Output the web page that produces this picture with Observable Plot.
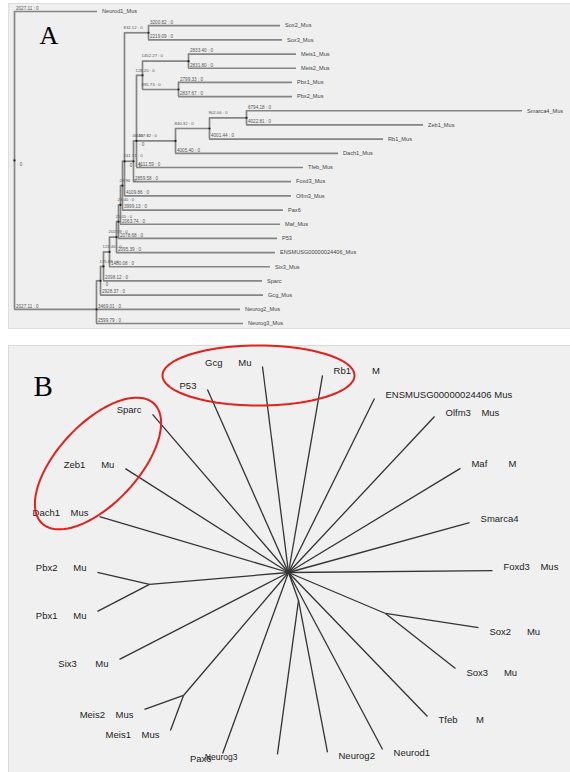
<!DOCTYPE html>
<html><head><meta charset="utf-8">
<script src="https://cdn.jsdelivr.net/npm/d3@7"></script>
<script src="https://cdn.jsdelivr.net/npm/@observablehq/plot@0.6"></script>
<style>body{margin:0;background:#fff;width:570px;overflow:hidden} svg{display:block}</style>
</head><body><div id="chart"></div>
<script>
// ================= Panel A : rectangular tree =================
// nodes listed depth-first (leaf order = top to bottom)
const nodeNamesA = ["root","Neurod1_Mus","nA","nB","nC","nD","nE","nF","nG","nH","nI","nSox","Sox2_Mus","Sox3_Mus","nJ","nK","nMP","nMeis","Meis1_Mus","Meis2_Mus","nPbx","Pbx1_Mus","Pbx2_Mus","nL","nM","nN","Smarca4_Mus","Zeb1_Mus","Rb1_Mus","Dach1_Mus","Tfeb_Mus","Foxd3_Mus","Olfm3_Mus","Pax6","Maf_Mus","P53","ENSMUSG00000024406_Mus","Six3_Mus","Sparc","Gcg_Mus","Neurog2_Mus","Neurog3_Mus"];
const nodeParentsA = [null,"root","root","nA","nB","nC","nD","nE","nF","nG","nH","nI","nSox","nSox","nI","nJ","nK","nMP","nMeis","nMeis","nMP","nPbx","nPbx","nK","nL","nM","nN","nN","nM","nL","nK","nJ","nI","nH","nG","nF","nE","nD","nC","nB","nA","nA"];
const nodeDepthsA = [0,16.6,16.4,17.2,17.8,19.0,20.4,20.8,21.2,21.6,22.0,26.8,53.2,53.6,23.8,24.4,25.6,34.8,56.4,56.4,32.8,55.6,55.6,32.2,39.0,46.4,101.6,81.8,73.8,64.8,57.8,55.4,55.4,53.8,53.2,52.6,52.2,51.2,49.6,49.8,45.2,45.8];
const branchLabelsA = ["","2027.11 : 0","2027.11 : 0","","175.88 : 0","123.46 : 0","202.59 : 0","25.05 : 0","23.40 : 0","28.96 : 0","","832.12 : 0","3200.82 : 0","2219.09 : 0","241.71 : 0","46.13 : 0","128.20 : 0","1452.27 : 0","2833.40 : 0","2831.80 : 0","895.73 : 0","2799.33 : 0","2837.67 : 0","4467.72 : 0","840.32 : 0","902.06 : 0","6794.18 : 0","4022.81 : 0","4001.44 : 0","4005.40 : 0","4111.59 : 0","2859.58 : 0","4109.86 : 0","3999.13 : 0","2063.74 : 0","2078.68 : 0","2095.39 : 0","1480.08 : 0","2098.12 : 0","2928.37 : 0","3469.01 : 0","2599.79 : 0"];
const nodeMarksA = ["root","nI","nJ","nK","nB"];

// ================= Panel B : unrooted radial tree =================
// branch angle (degrees clockwise from up) and length from parent
const bNames   = ["PbxB","MeisB","SoxB","NgB","Gcg","Rb1","P53","Sparc","Zeb1","Dach1","Pbx2","Pbx1","Six3","Meis2","Meis1","Pax6","Neurog3","Neurog2","Neurod1","Tfeb","Sox3","Sox2","Foxd3","Smarca4","Maf","Olfm3","ENSMUSG00000024406"];
const bParents = ["c","c","c","c","c","c","c","c","c","c","PbxB","PbxB","c","MeisB","MeisB","c","NgB","NgB","c","c","SoxB","SoxB","c","c","c","c","c"];
const bAngles  = [265.1,220.5,112.9,160.3,352.8,9.8,336.1,319.3,302.5,286.5,283,242.6,242.8,250.2,200.4,200,187.8,169.2,152,136,128.2,98.6,89.5,74.6,58.8,43.1,26.3];
const bLengths = [139.5,161.7,105.3,29.7,207.6,200,200.1,208.5,193.4,197.1,53.4,58.6,190,41.4,37.3,192.7,155.4,154.7,200.4,200.1,89,94,204,187.8,201,213.7,194.1];
const bSuffix  = ["","","","","Mu","M","","","Mu","Mus","Mu","Mu","Mu","Mus","Mus","","","","","M","Mu","Mu","Mus","","M","Mus","Mus"];
const bGap     = [0,0,0,0,6,8,0,0,6,4,6,6,7,4,4,0,0,0,0,7,6,6,4,0,8,4,1];
// highlight ellipses: centre, semi-axes, tilt (degrees)
const ellCx = [-30,-190.5];
const ellCy = [197,109];
const ellA  = [96,82];
const ellB  = [30,40];
const ellTilt = [0,47];

// ---------- build tree A ----------
const nodesA = nodeNamesA.map((name,i)=>({name,parentName:nodeParentsA[i],depth:nodeDepthsA[i],label:branchLabelsA[i],children:[]}));
const byNameA = new Map(nodesA.map(n=>[n.name,n]));
nodesA.forEach(n=>{ if(n.parentName){ n.parent=byNameA.get(n.parentName); n.parent.children.push(n);} });
let li=0; nodesA.forEach(n=>{ if(!n.children.length) n.y=li++; });
function setY(n){ if(!n.children.length) return n.y; n.children.forEach(setY); const c=n.children;
  n.y = c.length%2 ? c[(c.length-1)/2].y : (c[0].y+c[c.length-1].y)/2; return n.y; }
setY(nodesA[0]);
const nonRootA = nodesA.filter(n=>n.parent);
const internalA = nodesA.filter(n=>n.children.length);
const leavesA = nodesA.filter(n=>!n.children.length);
const vSegs = internalA.map(n=>({x:n.depth,y1:d3.min(n.children,c=>c.y),y2:d3.max(n.children,c=>c.y)}));
const markNodes = nodesA.filter(n=>nodeMarksA.includes(n.name));
const leafBranches = nonRootA.filter(n=>!n.children.length || n.parent.name==="root");
const innerBranches = nonRootA.filter(n=>n.children.length && n.parent.name!=="root");

const font = "'Liberation Sans', Arial, sans-serif";
const lineA = "#858585";
const plotA = Plot.plot({
  width:570, height:330, marginLeft:8, marginRight:0, marginTop:3, marginBottom:2,
  x:{domain:[0,111.2], range:[14,570], axis:null},
  y:{domain:[0,leavesA.length-1], range:[11,323], axis:null},
  style:{fontFamily:font, background:"transparent", overflow:"visible"},
  marks:[
    Plot.frame({fill:"#efefef", stroke:"#dedede"}),
    Plot.ruleX(vSegs,{x:"x",y1:"y1",y2:"y2",stroke:lineA,strokeWidth:1.7}),
    Plot.ruleY(nonRootA,{y:"y",x1:d=>d.parent.depth,x2:"depth",stroke:lineA,strokeWidth:1.7}),
    Plot.dot(internalA,{x:"depth",y:"y",r:1.1,fill:"#222"}),
    Plot.text(leafBranches,{x:d=>d.parent.depth,y:"y",text:"label",dx:1.5,dy:-3.2,textAnchor:"start",fontSize:4.6,fill:"#555"}),
    Plot.text(innerBranches,{x:d=>d.parent.depth,y:"y",text:"label",dx:-1,dy:-5.2,textAnchor:"start",fontSize:4.3,fill:"#555"}),
    Plot.text(markNodes,{x:"depth",y:"y",text:()=>"· 0",dx:2.5,dy:4,textAnchor:"start",fontSize:4.6,fill:"#555"}),
    Plot.text(leavesA,{x:"depth",y:"y",text:"name",dx:4.5,textAnchor:"start",fontSize:5.6,fill:"#444"}),
    Plot.text(["A"],{frameAnchor:"top-left",dx:31,dy:22,textAnchor:"start",lineAnchor:"top",fontSize:26,fontFamily:"'Liberation Serif', 'Times New Roman', serif",fill:"#000"})
  ]
});

// ---------- build tree B ----------
const posB = new Map([["c",{x:0,y:0}]]);
const segsB = [], leavesB = [];
bNames.forEach((name,i)=>{
  const p = posB.get(bParents[i]);
  const a = bAngles[i]*Math.PI/180;
  const q = {x:p.x+bLengths[i]*Math.sin(a), y:p.y+bLengths[i]*Math.cos(a)};
  posB.set(name,q);
  segsB.push({x1:p.x,y1:p.y,x2:q.x,y2:q.y});
  if(!bParents.includes(name)){
    leavesB.push({name, x:q.x, y:q.y, angle:bAngles[i],
      text: name + (bSuffix[i] ? "\u00a0".repeat(bGap[i]) + bSuffix[i] : "")});
  }
});
const ellPts = [];
ellCx.forEach((cx,k)=>{
  const t = ellTilt[k]*Math.PI/180;
  for(let j=0;j<=96;j++){
    const u = j/96*2*Math.PI;
    const ex = ellA[k]*Math.cos(u), ey = ellB[k]*Math.sin(u);
    ellPts.push({k, x:cx+ex*Math.cos(t)-ey*Math.sin(t), y:ellCy[k]+ex*Math.sin(t)+ey*Math.cos(t)});
  }
});
const leftB = leavesB.filter(d=>d.angle>180 && d.name!=="Neurog3");
const rightB = leavesB.filter(d=>d.angle<=180);
const oddB = leavesB.filter(d=>d.name==="Neurog3");
const upB = d=>Math.cos(d.angle*Math.PI/180)>0;

const plotB = Plot.plot({
  width:570, height:442, marginLeft:8, marginRight:0, marginTop:15, marginBottom:0,
  x:{domain:[-280,282], range:[8,570], axis:null},
  y:{domain:[-200,227], range:[442,15], axis:null},
  style:{fontFamily:font, background:"transparent", overflow:"visible"},
  marks:[
    Plot.frame({fill:"#f0f0f0", stroke:"#d9d9d9"}),
    Plot.link(segsB,{x1:"x1",y1:"y1",x2:"x2",y2:"y2",stroke:"#333",strokeWidth:1.3}),
    Plot.text(leftB.filter(upB),{x:"x",y:"y",text:"text",dx:-11,dy:-4,textAnchor:"end",fontSize:9.5,fill:"#1c1c1c"}),
    Plot.text(leftB.filter(d=>!upB(d)),{x:"x",y:"y",text:"text",dx:-11,dy:5,textAnchor:"end",fontSize:9.5,fill:"#1c1c1c"}),
    Plot.text(rightB.filter(upB),{x:"x",y:"y",text:"text",dx:11,dy:-4,textAnchor:"start",fontSize:9.5,fill:"#1c1c1c"}),
    Plot.text(rightB.filter(d=>!upB(d)),{x:"x",y:"y",text:"text",dx:11,dy:4,textAnchor:"start",fontSize:9.5,fill:"#1c1c1c"}),
    Plot.text(oddB,{x:"x",y:"y",text:"text",dx:-40,dy:3,textAnchor:"end",fontSize:8.5,fill:"#1c1c1c"}),
    Plot.line(ellPts,{x:"x",y:"y",z:"k",stroke:"#e3201b",strokeWidth:2}),
    Plot.text(["B"],{frameAnchor:"top-left",dx:25,dy:30,textAnchor:"start",lineAnchor:"top",fontSize:29,fontFamily:"'Liberation Serif', 'Times New Roman', serif",fill:"#000"})
  ]
});

const root = document.getElementById("chart");
root.appendChild(plotA);
root.appendChild(plotB);
</script></body></html>
